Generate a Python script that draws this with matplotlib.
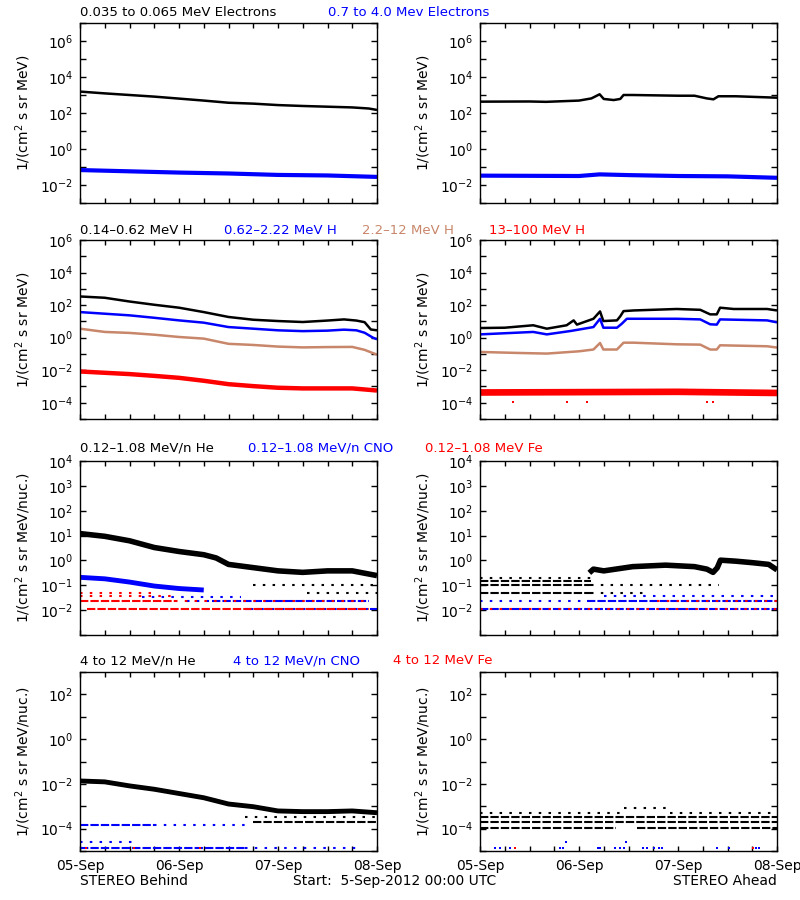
import numpy as np
import matplotlib
matplotlib.use('Agg')
import matplotlib.pyplot as plt
from matplotlib.ticker import FixedLocator, FuncFormatter, NullLocator

plt.rcParams['font.family'] = ['DejaVu Sans']
plt.rcParams['mathtext.fontset'] = 'dejavusans'

BLUE = '#0000ff'
TAN = '#c8866a'
RED = '#ff0000'

# x axis is hours since 5-Sep-2012 00:00 UTC
day_ticks = [0, 24, 48, 72]
day_labels = ['05-Sep', '06-Sep', '07-Sep', '08-Sep']

# ---- row 1: electrons, log10 flux ----
e_lo_b_h = [0, 6, 12, 18, 24, 30, 36, 42, 48, 54, 60, 66, 70, 72]
e_lo_b = [3.19, 3.09, 3.0, 2.91, 2.80, 2.69, 2.57, 2.52, 2.44, 2.39, 2.35, 2.31, 2.25, 2.17]
e_hi_b_h = [0, 12, 24, 36, 48, 60, 72]
e_hi_b = [-1.17, -1.24, -1.31, -1.36, -1.44, -1.47, -1.55]

e_lo_a_h = [0, 12, 16, 24, 27, 29, 30, 32.4, 34, 34.8, 37, 48, 52, 55, 56.6, 57.8, 62, 72]
e_lo_a = [2.63, 2.64, 2.62, 2.69, 2.81, 3.04, 2.78, 2.72, 2.78, 3.0, 3.0, 2.96, 2.96, 2.81, 2.76, 2.93, 2.93, 2.85]
e_hi_a_h = [0, 24, 29, 36, 48, 60, 72]
e_hi_a = [-1.48, -1.50, -1.41, -1.45, -1.50, -1.52, -1.60]

# ---- row 2: protons ----
h1_b_h = [0, 6, 12, 18, 24, 30, 36, 42, 48, 54, 60, 64, 67, 69, 70.5, 72]
h1_b = [2.53, 2.45, 2.22, 2.02, 1.84, 1.57, 1.27, 1.10, 1.02, 0.96, 1.05, 1.12, 1.05, 0.95, 0.50, 0.45]
h2_b_h = [0, 6, 12, 18, 24, 30, 36, 42, 48, 54, 60, 64, 67, 69, 71, 72]
h2_b = [1.57, 1.47, 1.37, 1.22, 1.06, 0.92, 0.65, 0.55, 0.45, 0.40, 0.43, 0.49, 0.45, 0.30, 0.0, -0.1]
h3_b_h = [0, 6, 12, 18, 24, 30, 36, 42, 48, 54, 60, 66, 69, 71, 72]
h3_b = [0.55, 0.35, 0.29, 0.18, 0.04, -0.06, -0.38, -0.45, -0.55, -0.60, -0.58, -0.57, -0.75, -0.95, -1.04]
h4_b_h = [0, 6, 12, 18, 24, 30, 36, 42, 48, 54, 60, 66, 72]
h4_b = [-2.08, -2.16, -2.24, -2.35, -2.47, -2.65, -2.86, -2.98, -3.08, -3.12, -3.12, -3.12, -3.25]

h1_a_h = [0, 6, 12.9, 16.2, 21, 22.7, 23.5, 27.5, 29.1, 29.9, 33.2, 34, 34.8, 37.2, 47.7, 53.4, 55.8, 57.4, 58.2, 61.5, 69.6, 72]
h1_a = [0.59, 0.61, 0.76, 0.55, 0.76, 1.06, 0.80, 1.16, 1.61, 1.02, 1.06, 1.31, 1.63, 1.67, 1.76, 1.71, 1.43, 1.43, 1.84, 1.76, 1.76, 1.67]
h2_a_h = [0, 12.9, 16.2, 22, 27.5, 29.1, 29.9, 33.2, 34.4, 35.6, 47.7, 53.4, 55.8, 57.4, 58.2, 69.6, 72]
h2_a = [0.20, 0.35, 0.20, 0.41, 0.65, 1.16, 0.61, 0.61, 0.86, 1.16, 1.16, 1.12, 0.82, 0.80, 1.12, 1.06, 0.94]
h3_a_h = [0, 9, 16.2, 24, 27.5, 29.1, 29.9, 33.2, 34.8, 37.2, 47.7, 53.4, 55.8, 57.4, 58.2, 69.6, 72]
h3_a = [-0.88, -0.94, -0.98, -0.84, -0.73, -0.33, -0.73, -0.73, -0.31, -0.31, -0.41, -0.43, -0.73, -0.73, -0.47, -0.53, -0.61]
h4_a_h = [0, 24, 48, 72]
h4_a = [-3.37, -3.35, -3.33, -3.40]
h4_a_low_pts = [8, 21, 26, 55, 56.5]
h4_a_low_lvl = -3.95

# ---- row 3: 0.12-1.08 MeV/n ions ----
he_lo_b_h = [0, 6, 12, 18, 24, 30, 33, 36, 42, 48, 54, 60, 66, 72]
he_lo_b = [1.08, 0.97, 0.79, 0.52, 0.36, 0.23, 0.10, -0.16, -0.29, -0.42, -0.48, -0.42, -0.42, -0.61]
he_lo_b_sparse = [(-1.0, 42, 72), (-1.30, 55, 72)]
cno_lo_b_h = [0, 6, 12, 18, 24, 30]
cno_lo_b = [-0.68, -0.74, -0.87, -1.03, -1.13, -1.19]
cno_lo_b_dense = [(-1.65, 32, 70), (-1.97, 40, 72)]
cno_lo_b_sparse = [(-1.47, 15, 39), (-1.65, 26, 32)]
fe_lo_b_dense = [(-1.64, 0, 23), (-1.95, 1.6, 70)]
fe_lo_b_sparse = [(-1.33, 0, 19), (-1.45, 0, 23), (-1.64, 23, 69)]

he_lo_a_h = [26.5, 27.5, 30, 37, 45, 52, 55, 56.5, 57.5, 58.3, 62, 66, 70, 72]
he_lo_a = [-0.50, -0.35, -0.42, -0.25, -0.19, -0.25, -0.35, -0.48, -0.30, 0.01, -0.03, -0.09, -0.16, -0.38]
he_lo_a_dense = [(-1.0, 0, 27), (-1.30, 0, 27), (-0.82, 0, 27)]
he_lo_a_sparse = [(-0.70, 0, 27), (-1.0, 27, 58), (-1.30, 27, 40)]
cno_lo_a_dense = [(-1.65, 26, 72), (-1.97, 0, 72)]
cno_lo_a_sparse = [(-1.65, 0, 26), (-1.45, 30, 72)]
fe_lo_a_dense = [(-1.97, 0, 72)]
fe_lo_a_sparse = [(-1.65, 43, 72)]

# ---- row 4: 4-12 MeV/n ions ----
he_hi_b_h = [0, 6, 12, 18, 24, 30, 36, 42, 48, 54, 60, 66, 72]
he_hi_b = [-1.87, -1.91, -2.09, -2.24, -2.43, -2.62, -2.90, -3.02, -3.21, -3.24, -3.24, -3.21, -3.29]
he_hi_b_dense = [(-3.69, 42, 72)]
he_hi_b_sparse = [(-3.47, 40, 72)]
cno_hi_b_dense = [(-3.84, 0, 18), (-4.87, 0, 40)]
cno_hi_b_sparse = [(-3.84, 18, 40), (-4.58, 0, 13), (-4.87, 40, 68)]
fe_hi_b_pts = [1.5, 13, 29]
fe_hi_b_lvl = -4.87

he_hi_a_dense = [(-3.50, 0, 72), (-3.69, 0, 72), (-3.99, 0, 33), (-3.99, 38, 72)]
he_hi_a_sparse = [(-3.32, 0, 35), (-3.10, 35, 46), (-3.32, 46, 72)]
cno_hi_a_pts = [3.6, 4.9, 7.3, 19.4, 20.2, 28.7, 29.1, 32.8, 34.0, 34.8, 39.6, 40.5, 42.1, 43.3, 44.1, 57.4, 60.3, 66.8, 67.6]
cno_hi_a_lvl = -4.87
cno_hi_a_pts2 = [20.8, 35.4]
cno_hi_a_lvl2 = -4.58
fe_hi_a_pts = [8.5, 66.3]
fe_hi_a_lvl = -4.87

fig = plt.figure(figsize=(8, 9), dpi=100)
W, H = 800.0, 900.0
rows = [(23, 203), (240, 419), (461, 635), (672, 851)]
cols = [80, 480]
pw = 297


def make_axes(r, c):
    top, bot = rows[r]
    return fig.add_axes([cols[c] / W, 1 - bot / H, pw / W, (bot - top) / H])


def setup(ax, lo, hi, step, ylabel, bottom_labels):
    ax.set_yscale('log')
    ax.set_ylim(10.0 ** lo, 10.0 ** hi)
    ax.set_xlim(0, 72)
    ax.yaxis.set_major_locator(FixedLocator([10.0 ** k for k in range(lo, hi + 1)]))
    ax.yaxis.set_minor_locator(NullLocator())

    def fmt(v, p):
        k = int(round(np.log10(v)))
        if k % step != 0 or k == lo:
            return ''
        return r'$10^{%d}$' % k
    ax.yaxis.set_major_formatter(FuncFormatter(fmt))
    ax.set_xticks(day_ticks)
    ax.set_xticks(range(0, 73, 6), minor=True)
    ax.set_xticklabels(day_labels if bottom_labels else [])
    ax.tick_params(axis='both', which='both', direction='in', top=True, right=True,
                   width=1, labelsize=10, colors='black')
    ax.tick_params(axis='x', which='both', length=3.5, pad=6)
    ax.tick_params(axis='y', which='both', length=4.5, pad=5)
    ax.set_ylabel(ylabel, fontsize=10)
    ax.yaxis.set_label_coords(-47 / pw, 0.5)
    for s in ax.spines.values():
        s.set_linewidth(1)


def trace(ax, hours, logv, color, lw):
    ax.plot(hours, 10.0 ** np.asarray(logv), color=color, lw=lw, solid_capstyle='butt')


def bands(ax, items, color, dense):
    for lvl, h0, h1 in items:
        ax.plot([h0, h1], [10.0 ** lvl] * 2, color=color, lw=1.5,
                dashes=(4, 1) if dense else (1.2, 3.5))


def points(ax, hours, lvl, color):
    ax.plot(hours, [10.0 ** lvl] * len(hours), ls='none', marker='s', ms=1.8, color=color, mew=0)


lab1 = r'1/(cm$^2$ s sr MeV)'
lab3 = r'1/(cm$^2$ s sr MeV/nuc.)'

# row 1
ax = make_axes(0, 0)
setup(ax, -3, 7, 2, lab1, False)
trace(ax, e_lo_b_h, e_lo_b, 'black', 1.8)
trace(ax, e_hi_b_h, e_hi_b, BLUE, 3.0)
ax = make_axes(0, 1)
setup(ax, -3, 7, 2, lab1, False)
trace(ax, e_lo_a_h, e_lo_a, 'black', 1.8)
trace(ax, e_hi_a_h, e_hi_a, BLUE, 3.0)

# row 2
ax = make_axes(1, 0)
setup(ax, -5, 6, 2, lab1, False)
trace(ax, h1_b_h, h1_b, 'black', 1.8)
trace(ax, h2_b_h, h2_b, BLUE, 1.8)
trace(ax, h3_b_h, h3_b, TAN, 1.8)
trace(ax, h4_b_h, h4_b, RED, 3.2)
ax = make_axes(1, 1)
setup(ax, -5, 6, 2, lab1, False)
trace(ax, h1_a_h, h1_a, 'black', 1.8)
trace(ax, h2_a_h, h2_a, BLUE, 1.8)
trace(ax, h3_a_h, h3_a, TAN, 1.8)
trace(ax, h4_a_h, h4_a, RED, 4.8)
points(ax, h4_a_low_pts, h4_a_low_lvl, RED)

# row 3
ax = make_axes(2, 0)
setup(ax, -3, 4, 1, lab3, False)
trace(ax, he_lo_b_h, he_lo_b, 'black', 4.0)
bands(ax, he_lo_b_sparse, 'black', False)
trace(ax, cno_lo_b_h, cno_lo_b, BLUE, 3.5)
bands(ax, cno_lo_b_dense, BLUE, True)
bands(ax, cno_lo_b_sparse, BLUE, False)
bands(ax, fe_lo_b_dense, RED, True)
bands(ax, fe_lo_b_sparse, RED, False)
ax = make_axes(2, 1)
setup(ax, -3, 4, 1, lab3, False)
bands(ax, he_lo_a_dense, 'black', True)
bands(ax, he_lo_a_sparse, 'black', False)
trace(ax, he_lo_a_h, he_lo_a, 'black', 4.0)
bands(ax, cno_lo_a_dense, BLUE, True)
bands(ax, cno_lo_a_sparse, BLUE, False)
bands(ax, fe_lo_a_dense, RED, False)
bands(ax, fe_lo_a_sparse, RED, False)

# row 4
ax = make_axes(3, 0)
setup(ax, -5, 3, 2, lab3, True)
trace(ax, he_hi_b_h, he_hi_b, 'black', 3.5)
bands(ax, he_hi_b_dense, 'black', True)
bands(ax, he_hi_b_sparse, 'black', False)
bands(ax, cno_hi_b_dense, BLUE, True)
bands(ax, cno_hi_b_sparse, BLUE, False)
points(ax, fe_hi_b_pts, fe_hi_b_lvl, RED)
ax = make_axes(3, 1)
setup(ax, -5, 3, 2, lab3, True)
bands(ax, he_hi_a_dense, 'black', True)
bands(ax, he_hi_a_sparse, 'black', False)
points(ax, cno_hi_a_pts, cno_hi_a_lvl, BLUE)
points(ax, cno_hi_a_pts2, cno_hi_a_lvl2, BLUE)
points(ax, fe_hi_a_pts, fe_hi_a_lvl, RED)

# row titles
titles = [
    (13, [(80, '0.035 to 0.065 MeV Electrons', 'black'), (328, '0.7 to 4.0 Mev Electrons', BLUE)]),
    (230, [(80, '0.14-0.62 MeV H', 'black'), (224, '0.62-2.22 MeV H', BLUE),
           (362, '2.2-12 MeV H', TAN), (489, '13-100 MeV H', RED)]),
    (448, [(80, '0.12-1.08 MeV/n He', 'black'), (248, '0.12-1.08 MeV/n CNO', BLUE),
           (425, '0.12-1.08 MeV Fe', RED)]),
    (661, [(80, '4 to 12 MeV/n He', 'black'), (233, '4 to 12 MeV/n CNO', BLUE),
           (393, '4 to 12 MeV Fe', RED)]),
]
for y, items in titles:
    for x, txt, col in items:
        fig.text(x / W, 1 - y / H, txt.replace('-', '\u2013'), color=col, fontsize=9.5,
                 ha='left', va='center')

fig.text(80 / W, 1 - 881 / H, 'STEREO Behind', fontsize=10, va='center')
fig.text(293 / W, 1 - 881 / H, 'Start:  5-Sep-2012 00:00 UTC', fontsize=10, va='center')
fig.text(777 / W, 1 - 881 / H, 'STEREO Ahead', fontsize=10, va='center', ha='right')

fig.savefig('out.png', dpi=100, facecolor='white')
